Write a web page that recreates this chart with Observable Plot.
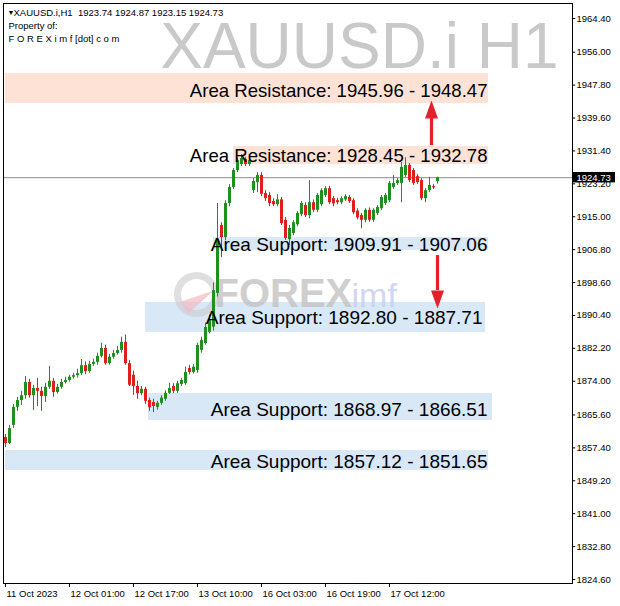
<!DOCTYPE html>
<html>
<head>
<meta charset="utf-8">
<script src="https://cdn.jsdelivr.net/npm/d3@7"></script>
<script src="https://cdn.jsdelivr.net/npm/@observablehq/plot@0.6"></script>
<style>
  html, body { margin: 0; padding: 0; background: #ffffff; }
  #chart svg { display: block; }
</style>
</head>
<body>
<div id="chart"></div>
<script>
// ---- Candle data (XAUUSD.i, H1) ----
const opens  = [1860.0,1858.5,1863.0,1867.5,1869.2,1870.4,1873.7,1870.4,1872.2,1871.5,1870.2,1872.5,1874.0,1871.2,1872.5,1873.7,1874.2,1875.0,1875.4,1875.9,1877.9,1876.4,1878.2,1878.7,1880.2,1882.2,1878.4,1880.0,1880.9,1881.7,1883.7,1878.4,1875.5,1872.7,1870.9,1872.0,1869.2,1868.7,1867.5,1868.5,1869.5,1871.0,1872.7,1871.5,1873.2,1873.4,1877.2,1876.2,1876.7,1881.7,1883.4,1886.2,1887.5,1895.9,1912.8,1909.8,1918.3,1922.3,1926.5,1928.0,1929.3,1928.0,1921.5,1923.5,1925.3,1920.8,1920.3,1918.8,1918.0,1919.2,1914.1,1909.3,1910.8,1913.0,1915.5,1917.8,1915.3,1918.5,1916.6,1918.0,1920.3,1922.0,1919.5,1919.0,1918.5,1919.2,1919.8,1919.0,1916.4,1915.3,1914.1,1916.6,1914.1,1915.8,1917.0,1918.3,1919.0,1922.3,1923.3,1923.3,1925.3,1927.8,1926.5,1925.0,1924.0,1919.5,1921.5,1922.5,1923.74];
const highs  = [1860.7,1863.0,1868.2,1870.0,1871.5,1875.2,1874.5,1873.0,1874.7,1872.5,1873.5,1877.7,1874.7,1873.2,1874.5,1875.0,1875.5,1876.0,1877.0,1879.4,1878.8,1879.0,1879.5,1881.0,1883.5,1883.0,1880.7,1881.7,1882.7,1885.0,1885.5,1879.2,1876.5,1874.0,1872.7,1872.5,1869.8,1869.5,1869.0,1870.4,1871.6,1873.5,1873.4,1874.0,1874.7,1877.5,1878.0,1878.2,1883.5,1885.0,1888.5,1890.5,1898.5,1918.3,1913.5,1919.0,1923.0,1927.0,1929.5,1930.5,1929.8,1929.7,1924.5,1926.0,1926.0,1921.5,1921.0,1919.5,1920.5,1919.8,1914.8,1912.8,1914.0,1916.3,1918.8,1918.5,1924.0,1919.2,1920.8,1922.0,1922.5,1922.6,1920.0,1919.6,1920.0,1920.5,1920.3,1919.5,1917.0,1915.8,1917.0,1917.2,1917.0,1917.8,1920.3,1920.8,1923.8,1925.3,1924.5,1928.5,1929.7,1928.3,1927.0,1925.5,1924.5,1922.0,1924.8,1923.0,1924.87];
const lows   = [1857.5,1858.2,1862.2,1866.5,1868.0,1869.5,1869.8,1866.7,1867.7,1866.5,1868.7,1872.0,1870.0,1870.8,1872.0,1873.3,1873.8,1874.6,1874.8,1875.4,1875.6,1876.0,1877.7,1878.0,1879.8,1878.0,1878.0,1879.5,1880.5,1881.0,1878.0,1872.7,1870.5,1869.5,1870.4,1868.2,1866.5,1866.2,1866.8,1868.0,1869.0,1870.7,1870.9,1871.0,1872.7,1873.0,1875.6,1875.8,1876.0,1881.0,1883.0,1885.8,1886.5,1895.0,1904.8,1909.0,1917.5,1921.8,1926.0,1927.5,1927.5,1927.5,1920.8,1921.0,1920.0,1918.8,1917.5,1917.5,1917.5,1912.8,1909.1,1907.8,1910.3,1912.5,1915.0,1914.8,1914.5,1916.0,1916.0,1917.5,1919.8,1918.0,1917.5,1918.0,1918.0,1918.8,1918.3,1915.5,1914.2,1912.0,1913.5,1913.6,1913.6,1915.3,1916.5,1917.8,1918.5,1921.8,1922.8,1918.5,1924.8,1923.5,1922.8,1923.0,1919.0,1918.5,1921.0,1921.8,1923.15];
const closes = [1858.5,1862.2,1867.5,1869.2,1870.4,1873.7,1870.4,1872.2,1871.5,1870.2,1872.5,1874.0,1871.2,1872.5,1873.7,1874.2,1875.0,1875.4,1875.9,1877.9,1876.4,1878.2,1878.7,1880.2,1882.2,1878.4,1880.0,1880.9,1881.7,1883.7,1878.4,1873.0,1872.7,1870.9,1872.0,1869.0,1867.4,1867.7,1868.5,1869.8,1871.0,1872.2,1871.5,1873.4,1874.2,1876.2,1876.2,1877.5,1882.9,1884.2,1887.4,1889.1,1896.6,1909.1,1909.8,1918.3,1922.3,1926.5,1929.0,1929.5,1928.0,1929.0,1923.8,1925.3,1920.6,1919.5,1918.3,1918.0,1919.2,1913.3,1909.6,1912.1,1913.5,1915.8,1918.3,1915.3,1918.5,1916.6,1920.3,1921.5,1922.0,1918.5,1918.2,1918.5,1919.5,1920.0,1918.8,1916.0,1914.7,1914.1,1916.6,1914.1,1916.6,1917.3,1919.8,1920.3,1923.3,1923.3,1924.0,1927.3,1927.8,1924.0,1923.3,1923.5,1919.5,1921.5,1922.8,1922.2,1924.73];

// ---- Axis labels ----
const yTicks = [1964.40,1956.00,1947.80,1939.60,1931.40,1923.20,1915.00,1906.80,1898.60,1890.40,1882.20,1874.00,1865.60,1857.40,1849.20,1841.00,1832.80,1824.60];
const xLabels = ["11 Oct 2023","12 Oct 01:00","12 Oct 17:00","13 Oct 10:00","16 Oct 03:00","16 Oct 19:00","17 Oct 12:00"];
const xLabelBars = [0,16,32,48,64,80,96];

// ---- Header ----
const symbolTitle = "XAUUSD.i,H1  1923.74 1924.87 1923.15 1924.73";
const lastPrice = 1924.73;

// ---- Zones ----
const zoneKind   = ["res","res","sup","sup","sup","sup"];
const zoneTop    = [1950.70,1932.50,1909.82,1893.63,1870.95,1856.74];
const zoneBottom = [1943.22,1928.02,1906.58,1886.15,1864.22,1851.76];
const zoneStart  = [0,57,52,35,35.75,0];
const zoneEnd    = [120.75,120.75,120.75,120,121.75,120.75];
const zoneText   = ["Area Resistance: 1945.96 - 1948.47","Area Resistance: 1928.45 - 1932.78","Area Support: 1909.91 - 1907.06","Area Support: 1892.80 - 1887.71","Area Support: 1868.97 - 1866.51","Area Support: 1857.12 - 1851.65"];
const zoneTextX  = [120.5,120.5,120.5,119.25,120.5,120.5];
const zoneTextY  = [1944.96,1928.52,1906.58,1888.39,1865.46,1852.26];
const zoneTextSize = [18.6,18.6,19,19,19,19];

// ---- Arrows ----
const arrowX    = [106.5,108];
const arrowFrom = [1932.75,1905.34];
const arrowTo   = [1939.48,1896.62];
const arrowDir  = [0,180];

const GREEN = "#1f8f1f", RED = "#e01e1e";
const candles = opens.map((o, i) => ({i, o, h: highs[i], l: lows[i], c: closes[i]}));
const zones = zoneKind.map((k, j) => ({k, top: zoneTop[j], bot: zoneBottom[j], x1: zoneStart[j], x2: zoneEnd[j], text: zoneText[j], tx: zoneTextX[j], ty: zoneTextY[j], fs: zoneTextSize[j]}));
const arrows = arrowX.map((x, j) => ({x, from: arrowFrom[j], to: arrowTo[j], rot: arrowDir[j]}));
const xMax = 141.75, yMin = 1823.6, yMax = 1968.14;
const FONT = "Liberation Sans, Arial, sans-serif";

const chart = Plot.plot({
  width: 620, height: 606,
  marginLeft: 3, marginRight: 48, marginTop: 3, marginBottom: 23,
  style: {fontFamily: FONT, background: "#ffffff", overflow: "visible"},
  x: {domain: [-0.5, xMax], axis: null},
  y: {domain: [yMin, yMax], axis: null},
  marks: [
    // watermark
    Plot.text(["XAUUSD.i H1"], {frameAnchor: "top-right", dx: -14, dy: 64, lineAnchor: "bottom", fontSize: 64, fill: "#c9c9c9"}),
    // zones
    Plot.rect(zones, {x1: "x1", x2: "x2", y1: "bot", y2: "top", fill: d => d.k === "res" ? "#fde2d5" : "#d8e8f7"}),
    // logo watermark
    Plot.dot([0], {frameAnchor: "top-left", dx: 193, dy: 291, r: 19, stroke: "#c9c9c9", strokeWidth: 7, fill: "none", opacity: 0.6}),
    Plot.vector([0], {frameAnchor: "top-left", dx: 181, dy: 304, length: 34, r: 7, rotate: 60, shape: "spike", anchor: "start", fill: "#f3b9c4", stroke: "none", opacity: 0.7}),
    Plot.text(["FOREX"], {frameAnchor: "top-left", dx: 211, dy: 303, lineAnchor: "bottom", textAnchor: "start", fontSize: 40, fontWeight: "bold", fill: "#c0c0c0", opacity: 0.75}),
    Plot.text(["imf"], {frameAnchor: "top-left", dx: 348, dy: 303, lineAnchor: "bottom", textAnchor: "start", fontSize: 34, fill: "#c7cdef", opacity: 0.8}),
    // current price line
    Plot.ruleY([lastPrice], {stroke: "#8c8c8c", strokeWidth: 1}),
    // wicks
    Plot.ruleX(candles, {x: "i", y1: "l", y2: "h", stroke: d => d.c >= d.o ? GREEN : RED, strokeWidth: 1}),
    // bodies
    Plot.ruleX(candles, {x: "i", y1: "o", y2: d => Math.abs(d.c - d.o) < 0.25 ? d.o - 0.25 : d.c, stroke: d => d.c >= d.o ? GREEN : RED, strokeWidth: 3}),
    // zone labels
    Plot.text(zones, {x: "tx", y: "ty", text: "text", textAnchor: "end", lineAnchor: "bottom", fontSize: "fs", fill: "#000"}),
    // arrows
    Plot.ruleX(arrows, {x: "x", y1: "from", y2: "to", stroke: "#e3202b", strokeWidth: 3.2}),
    Plot.vector(arrows, {x: "x", y: "to", rotate: "rot", length: 18, r: 6.5, shape: "spike", anchor: "start", fill: "#e3202b", stroke: "none"}),
    // frame
    Plot.frame({stroke: "#000"}),
    // y axis
    Plot.ruleY(yTicks, {x1: xMax, x2: xMax + 0.8, stroke: "#000"}),
    Plot.text(yTicks, {x: xMax, y: d => d, dx: 4, text: d => d.toFixed(2), textAnchor: "start", fontSize: 9.5, fill: "#000"}),
    // last price tag
    Plot.rect([lastPrice], {x1: xMax + 0.15, x2: 152.5, y1: d => d - 1.3, y2: d => d + 1.3, fill: "#000"}),
    Plot.text([lastPrice], {x: xMax, y: d => d, dx: 4, text: d => d.toFixed(2), textAnchor: "start", fontSize: 9.5, fill: "#fff"}),
    // x axis
    Plot.ruleX(xLabelBars, {x: d => d, y1: yMin, y2: yMin - 1, stroke: "#000"}),
    Plot.text(xLabelBars, {x: d => d, y: yMin, dx: 1, dy: 10, text: (d, j) => xLabels[j], textAnchor: "start", fontSize: 9.5, fill: "#000"}),
    // header
    Plot.text(["▼"], {frameAnchor: "top-left", dx: 4, dy: 11, lineAnchor: "bottom", textAnchor: "start", fontSize: 7, fill: "#000"}),
    Plot.text([symbolTitle], {frameAnchor: "top-left", dx: 10, dy: 12, lineAnchor: "bottom", textAnchor: "start", fontSize: 9.5, fill: "#000", style: {whiteSpace: "pre"}}),
    Plot.text(["Property of:"], {frameAnchor: "top-left", dx: 5, dy: 25, lineAnchor: "bottom", textAnchor: "start", fontSize: 9.5, fill: "#000"}),
    Plot.text(["F O R E X i m f [dot] c o m"], {frameAnchor: "top-left", dx: 5, dy: 38, lineAnchor: "bottom", textAnchor: "start", fontSize: 9.5, fill: "#000"})
  ]
});
document.getElementById("chart").appendChild(chart);
</script>
</body>
</html>
